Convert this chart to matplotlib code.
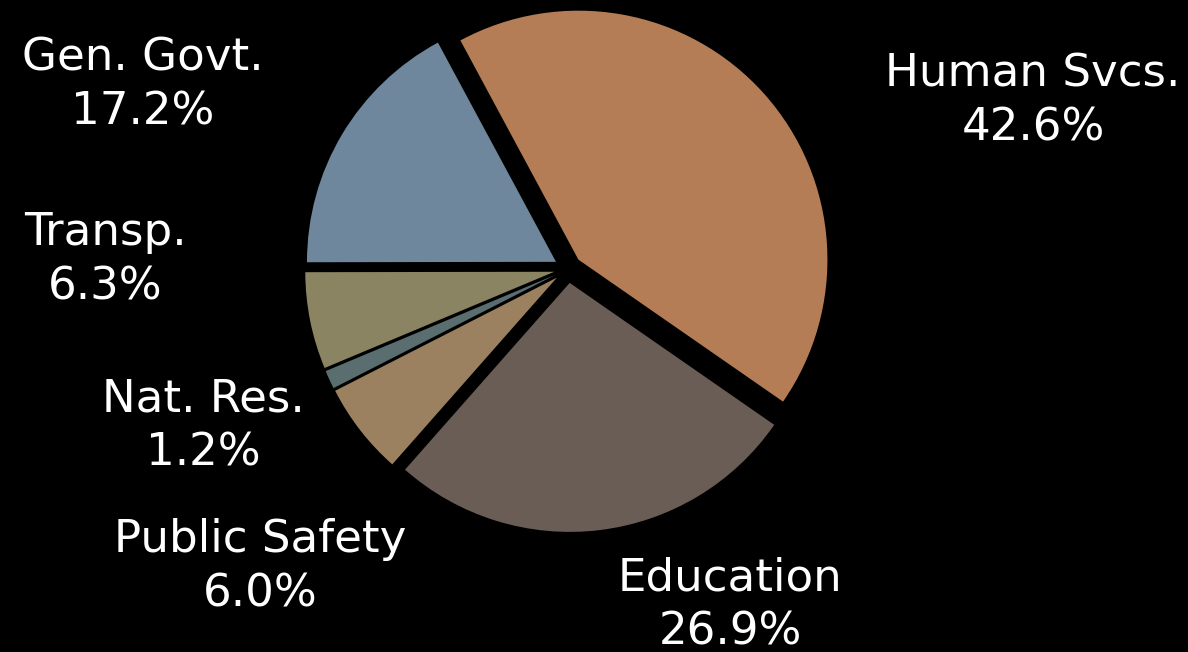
import matplotlib.pyplot as plt

# --- datos ---
categorias = ['Human Svcs.', 'Education', 'Public Safety', 'Nat. Res.', 'Transp.', 'Gen. Govt.']
porcentajes = [42.6, 26.9, 6.0, 1.2, 6.3, 17.2]
colores = ['#B57D55', '#6A5D55', '#9C8160', '#5A6E70', '#8A8462', '#6E879C']

# posiciones de las etiquetas (en pixeles, origen abajo a la izquierda)
pos_etiquetas = [(1033, 551), (730, 47), (260, 85), (203, 226), (105, 392), (143, 567)]

W, H = 1188, 652
fig = plt.figure(figsize=(W / 100, H / 100), dpi=100, facecolor='black')
ax = fig.add_axes([0, 0, 1, 1])
ax.set_facecolor('black')

ax.pie(porcentajes, colors=colores, startangle=118.3, counterclock=False,
       radius=249, center=(568, H - 269), explode=[14] * len(porcentajes),
       wedgeprops=dict(linewidth=0))

ax.set_xlim(0, W)
ax.set_ylim(0, H)
ax.set_aspect('equal')
ax.axis('off')

for cat, pct, (x, y) in zip(categorias, porcentajes, pos_etiquetas):
    ax.text(x, y, f'{cat}\n{pct:.1f}%', color='white', fontsize=32.5,
            ha='center', va='center', linespacing=1.34, family='DejaVu Sans')

fig.savefig('out.png', dpi=100, facecolor='black')
